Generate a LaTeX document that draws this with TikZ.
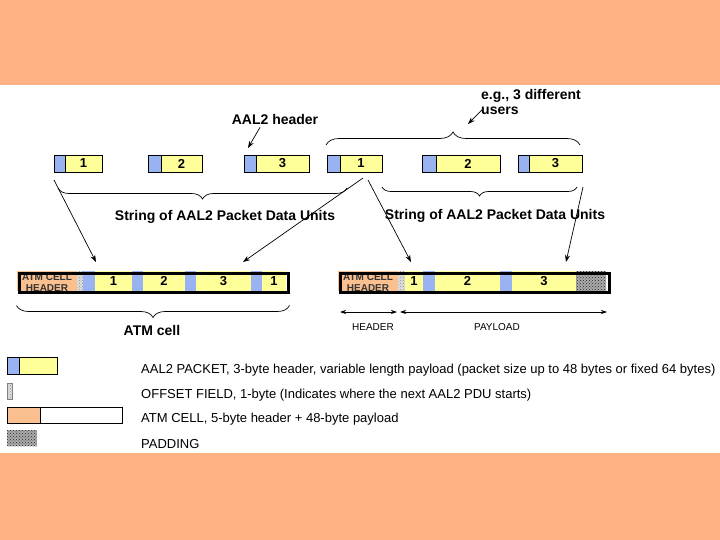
\documentclass[tikz,border=0pt]{standalone}
\usepackage{fontspec}
\setmainfont{Liberation Sans}
\usetikzlibrary{positioning, arrows.meta, decorations.pathreplacing, patterns, calc}
\definecolor{atBand}{HTML}{FFB385}
\definecolor{atHdr}{HTML}{99B3F2}
\definecolor{atBody}{HTML}{FFFF99}
\definecolor{atCell}{HTML}{FAC090}
\tikzset{
  atSeg/.style={rectangle, inner sep=0pt, outer sep=0pt, anchor=north west,
                minimum height=17pt, font=\fontsize{13}{13}\selectfont\bfseries},
  atPktH/.style={atSeg, draw=black, line width=0.8pt, fill=atHdr},
  atPktB/.style={atSeg, draw=black, line width=0.8pt, fill=atBody},
  atCellSeg/.style={atSeg, minimum height=20pt},
  atOff/.style={fill=gray!25, postaction={pattern=crosshatch dots, pattern color=gray!90}},
  atPad/.style={fill=gray!65, postaction={pattern=crosshatch dots, pattern color=black!85}},
  atCellBox/.style={rectangle, draw=black, line width=3pt, inner sep=0pt, anchor=north west,
                    minimum width=269pt, minimum height=19pt},
  atArrow/.style={-{Stealth[length=7pt, width=5pt]}, line width=0.7pt},
  atSpan/.style={{Stealth[length=6pt, width=4pt]}-{Stealth[length=6pt, width=4pt]}, line width=0.7pt},
  atBrace/.style={decorate, decoration={brace, amplitude=#1}, line width=0.7pt},
  atLabel/.style={font=\fontsize{14}{15}\selectfont\bfseries, inner sep=0pt},
  atSmall/.style={font=\fontsize{10}{10}\selectfont, inner sep=0pt},
  atCellTxt/.style={font=\fontsize{10}{11}\selectfont\bfseries, inner sep=0pt, align=center, text=black!80},
  atKey/.style={font=\fontsize{13}{13}\selectfont, inner sep=0pt, anchor=west},
}

\begin{document}
\begin{tikzpicture}[x=1pt, y=-1pt]
  \useasboundingbox (0,0) rectangle (720,540);

  % ─── Slide bands ─────────────────────────────────────────────────────────────
  \fill[atBand] (0,0) rectangle (720,85);
  \fill[atBand] (0,453) rectangle (720,540);

  % ─── Row of AAL2 packets (top) ───────────────────────────────────────────────
  \foreach \n/\xa/\xb/\xc/\t in {1/54/65/102/1, 2/148/161/202/2, 3/244/256/309/3,
                                 4/327/340/382/1, 5/422/436/500/2, 6/518/529/582/3} {
    \node[atPktH, minimum width={(\xb-\xa)*1pt}] (p\n h) at (\xa,155) {};
    \node[atPktB, minimum width={(\xc-\xb)*1pt}] (p\n b) at (\xb,155) {\t};
  }

  \node[atLabel] (lbHdr) at (275,119) {AAL2 header};
  \draw[atArrow] ($(lbHdr.south)+(-15,3)$) -- ($(p3h.north east)+(-8,-7)$);

  \node[atLabel, anchor=north west, align=left] (lbUsers) at (481,89) {e.g., 3 different\\users};
  \coordinate (usrTip) at (468,124);
  \draw[atArrow] ($(lbUsers.west)+(2,7)$) -- (usrTip);

  % braces round the packets
  \draw[atBrace=13pt] ($(p4h.north west)+(-1,-10)$) -- ($(p6b.north east)+(-2,-10)$);
  \draw[atBrace=11pt] ($(p4h.south west)+(20,16)$) -- ($(p1h.south west)+(4,16)$);
  \draw[atBrace=9pt]  ($(p6b.south east)+(-5,15)$) -- ($(p5h.south west)+(-40,15)$);

  \node[atLabel] (sL) at (225,217) {String of AAL2 Packet Data Units};
  \node[atLabel] (sR) at (495,216) {String of AAL2 Packet Data Units};

  % ─── ATM cell, left: packets run over the cell boundary ──────────────────────
  \node[atCellSeg, fill=atCell, minimum width=60pt] (lh) at (17,271) {};
  \node[atCellSeg, atOff, minimum width=6pt] (lo) at (77,271) {};
  \foreach \n/\xa/\xb/\xc/\t in {1/83/95/132/1, 2/132/143/185/2, 3/185/196/251/3, 4/251/262/286/1} {
    \node[atCellSeg, fill=atHdr, minimum width={(\xb-\xa)*1pt}] (l\n h) at (\xa,271) {};
    \node[atCellSeg, fill=atBody, minimum width={(\xc-\xb)*1pt}] (l\n b) at (\xb,271) {\t};
  }
  \begin{scope}
    \clip (lh.north west) rectangle (lh.south east);
    \node[atCellTxt] (lhT) at ($(lh.center)+(0,1.5)$) {ATM CELL\\HEADER};
  \end{scope}
  \node[atCellBox] (lcell) at (17.5,271.5) {};

  \draw[atBrace=12pt] ($(lcell.south east)+(0,12)$) -- ($(lcell.south west)+(-1,12)$);
  \node[atLabel] (lbCell) at (152,330) {ATM cell};

  % ─── ATM cell, right: last packet ends, padding fills the rest ───────────────
  \node[atCellSeg, fill=atCell, minimum width=60pt] (rh) at (338,271) {};
  \node[atCellSeg, atOff, minimum width=7pt] (ro) at (398,271) {};
  \node[atCellSeg, fill=atBody, minimum width=18pt] (r1b) at (405,271) {1};
  \node[atCellSeg, fill=atHdr, minimum width=12pt] (r2h) at (423,271) {};
  \node[atCellSeg, fill=atBody, minimum width=65pt] (r2b) at (435,271) {2};
  \node[atCellSeg, fill=atHdr, minimum width=12pt] (r3h) at (500,271) {};
  \node[atCellSeg, fill=atBody, minimum width=64pt] (r3b) at (512,271) {3};
  \node[atCellSeg, atPad, minimum width=30pt] (rp) at (576,271) {};
  \begin{scope}
    \clip (rh.north west) rectangle (rh.south east);
    \node[atCellTxt] (rhT) at ($(rh.center)+(0,1.5)$) {ATM CELL\\HEADER};
  \end{scope}
  \node[atCellBox] (rcell) at (338.5,271.5) {};

  \coordinate (hdrL) at (340,312);
  \coordinate (hdrR) at (397,312);
  \coordinate (payL) at (400,312);
  \coordinate (payR) at (607,312);
  \draw[atSpan] (hdrL) -- (hdrR);
  \draw[atSpan] (payL) -- (payR);
  \node[atSmall] (lbH) at (373,327) {HEADER};
  \node[atSmall] (lbP) at (497,327) {PAYLOAD};

  % ─── Packets dropped into the cells ──────────────────────────────────────────
  \draw[atArrow] ($(p1h.south west)+(0,8)$) -- ($(l1b.north west)+(1,-9)$);
  \draw[atArrow] ($(p4b.south)+(2,6)$) -- ($(l4h.north west)+(-8,-9)$);
  \draw[atArrow] ($(p4b.south)+(7,8)$) -- ($(r1b.north)+(-3,-9)$);
  \draw[atArrow] ($(p6b.south east)+(1,15)$) -- ($(r3b.north east)+(-10,-9)$);

  % ─── Legend ──────────────────────────────────────────────────────────────────
  \node[atPktH, minimum width=12pt] (k1h) at (7,357) {};
  \node[atPktB, minimum width=38pt] (k1b) at (19,357) {};
  \node[atSeg, atOff, draw=gray, line width=0.5pt, minimum width=5pt, minimum height=16pt] (k2) at (7,383) {};
  \node[atSeg, fill=atCell, draw=black, line width=0.8pt, minimum width=33pt, minimum height=16pt] (k3h) at (7,407) {};
  \node[atSeg, fill=white, draw=black, line width=0.8pt, minimum width=82pt, minimum height=16pt] (k3b) at (40,407) {};
  \node[atSeg, atPad, minimum width=30pt, minimum height=16pt] (k4) at (7,430) {};

  \node[atKey] (t1) at (141,370) {AAL2 PACKET, 3-byte header, variable length payload (packet size up to 48 bytes or fixed 64 bytes)};
  \node[atKey] (t2) at (141,395) {OFFSET FIELD, 1-byte (Indicates where the next AAL2 PDU starts)};
  \node[atKey] (t3) at (141,419) {ATM CELL, 5-byte header + 48-byte payload};
  \node[atKey] (t4) at (141,444) {PADDING};

\end{tikzpicture}
\end{document}
